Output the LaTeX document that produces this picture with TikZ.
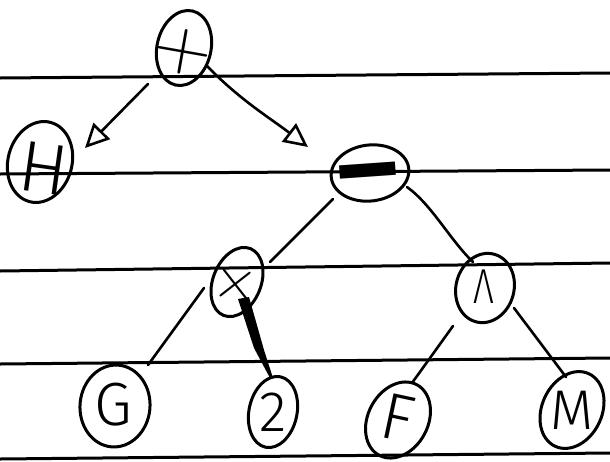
\documentclass[tikz,border=0pt]{standalone}
\usepackage{fontspec}
\newfontfamily\handfont{Fira Sans Light}
\newfontfamily\barfont{Liberation Sans}
\usetikzlibrary{shapes.geometric,arrows.meta,calc}
\tikzset{
  ring/.style={ellipse, draw, line width=3pt, inner sep=0pt, outer sep=0pt},
  ruled/.style={line width=3pt},
  edge/.style={line width=2.6pt, line cap=round, line join=round},
  arr/.style={-{Triangle[open, length=24pt, width=23pt]}},
  hand/.style={inner sep=0pt, font=\handfont\fontsize{#1}{#1}\selectfont},
  lm/.style={inner sep=0pt, font=\fontsize{#1}{#1}\selectfont}
}
\begin{document}
\begin{tikzpicture}[x=1pt, y=-1pt]
  \useasboundingbox (0,0) rectangle (610,461);
  \fill[white] (0,0) rectangle (610,461);

  % ruled paper lines
  \draw[ruled] (0,78) -- (610,73);
  \draw[ruled] (0,174) -- (610,170);
  \draw[ruled] (0,271) -- (610,263);
  \draw[ruled] (0,364) -- (610,358);
  \draw[ruled] (0,459) -- (610,453);

  % tree nodes (tilted ellipses)
  \node[ring, minimum width=54pt, minimum height=76pt, rotate=-13] (root)  at (184,48)  {};
  \node[ring, minimum width=64pt, minimum height=82pt, rotate=-15] (H)     at (40,162)  {};
  \node[ring, minimum width=78pt, minimum height=56pt, rotate=7]   (minus) at (370,173) {};
  \node[ring, minimum width=48pt, minimum height=72pt, rotate=-22] (plus)  at (237,282) {};
  \node[ring, minimum width=58pt, minimum height=70pt, rotate=-15] (wedge) at (485,288) {};
  \node[ring, minimum width=70pt, minimum height=82pt, rotate=-5]  (G)     at (115,406) {};
  \node[ring, minimum width=48pt, minimum height=72pt, rotate=-12] (two)   at (273,412) {};
  \node[ring, minimum width=60pt, minimum height=80pt, rotate=-28] (F)     at (398,420) {};
  \node[ring, minimum width=60pt, minimum height=80pt, rotate=-25] (M)     at (572,410) {};

  % labels
  \node[lm=80, rotate=-10, yscale=0.9] (rootlab) at (183,52) {+};
  \node[hand=72, rotate=-8] (Hlab) at (44,168) {H};
  \node[inner sep=0pt, font=\barfont\bfseries\fontsize{56}{56}\selectfont, anchor=base, rotate=4]
      (minuslab) at (370,207) {\scalebox{1}[2.4]{—}};
  \node[lm=62, rotate=38] (pluslab) at (236,285) {+};
  \node[hand=49, xscale=0.75] (wedgelab) at (484,287) {Λ};
  \node[hand=61] (Glab) at (113,405) {G};
  \node[hand=57] (twolab) at (273,412) {2};
  \node[hand=66, rotate=-12] (Flab) at (398,418) {F};
  \node[hand=56] (Mlab) at (572,410) {M};

  % connectors
  \draw[edge, arr] ([shift={(-36,36)}]root.center) -- ([shift={(45,-14)}]H.center);
  \draw[edge, arr] ([shift={(23,18)}]root.center)
      .. controls ([shift={(56,52)}]root.center) and ([shift={(-100,-55)}]minus.center)
      .. ([shift={(-62,-26)}]minus.center);
  \draw[edge] ([shift={(-37,26)}]minus.center) -- ([shift={(33,-20)}]plus.center);
  \draw[edge] ([shift={(37,14)}]minus.center)
      .. controls ([shift={(62,32)}]minus.center) and ([shift={(-35,-48)}]wedge.center)
      .. ([shift={(-12,-26)}]wedge.center);
  \draw[edge] ([shift={(-33,6)}]plus.center) -- ([shift={(33,-41)}]G.center);
  \fill[line join=round] ([shift={(1,17)}]plus.center) -- ([shift={(12,15)}]plus.center)
      -- ([shift={(-9,-62)}]two.center) -- ([shift={(0,-34)}]two.center)
      -- ([shift={(-3,-34)}]two.center) -- ([shift={(-19,-64)}]two.center) -- cycle;
  \draw[edge] ([shift={(-32,38)}]wedge.center) -- ([shift={(14,-37)}]F.center);
  \draw[edge] ([shift={(29,20)}]wedge.center) -- ([shift={(-6,-33)}]M.center);
\end{tikzpicture}
\end{document}
